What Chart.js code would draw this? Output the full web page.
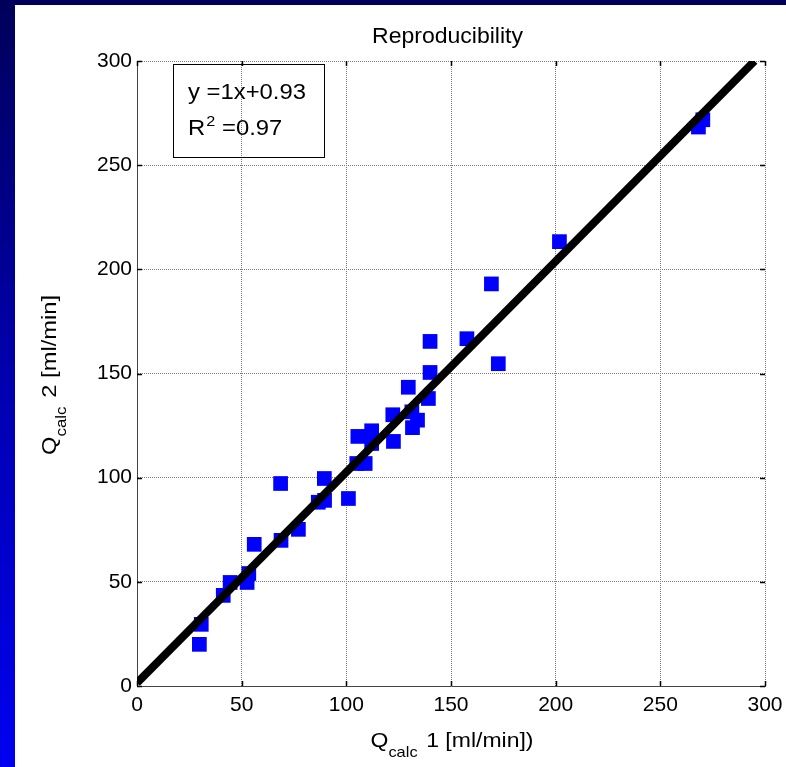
<!DOCTYPE html>
<html>
<head>
<meta charset="utf-8">
<script src="https://cdn.jsdelivr.net/npm/chart.js@4/dist/chart.umd.min.js"></script>
<style>
  html, body { margin: 0; padding: 0; width: 786px; height: 767px; overflow: hidden;
    background: linear-gradient(to bottom, #00005a 0%, #0000b0 50%, #0000f0 100%); }
  #wrap { position: absolute; left: 15px; top: 5px; width: 771px; height: 762px; background: #ffffff; }
  canvas { display: block; }
</style>
</head>
<body>
<div id="wrap"><canvas id="c" width="771" height="762"></canvas></div>
<script>
// ---- data ----
const chartTitle = "Reproducibility";
const xTicks = [0, 50, 100, 150, 200, 250, 300];
const yTicks = [0, 50, 100, 150, 200, 250, 300];
const q1 = [29.8, 30.7, 41.2, 44.5, 52.6, 53.4, 56.0, 68.8, 68.6, 77.1, 86.6, 89.6, 89.5, 101.0,
            105.0, 109.0, 105.5, 112.1, 112.1, 122.5, 122.2, 131.3, 134.0, 131.6, 129.6, 139.2,
            140.0, 140.0, 157.6, 172.6, 169.3, 201.8, 268.2, 270.3];
const q2 = [20.0, 29.6, 43.5, 49.7, 49.7, 54.0, 68.0, 69.9, 97.2, 75.2, 88.2, 89.1, 99.6, 90.0,
            106.8, 106.8, 119.8, 122.5, 116.4, 117.4, 130.2, 131.6, 127.6, 124.0, 143.4, 138.0,
            150.5, 165.4, 166.7, 154.7, 193.0, 213.3, 268.3, 271.8];
const fitX = [0, 295];
const fitY = [1.5, 300];
const fitText = "y =1x+0.93";
const r2Text = "0.97";

const FONT = "'Liberation Sans', Arial, Helvetica, sans-serif";

const scatterPts = q1.map((x, i) => ({ x: x, y: q2[i] }));
const linePts = fitX.map((x, i) => ({ x: x, y: fitY[i] }));

const decor = {
  id: 'decor',
  afterDraw(chart) {
    const ctx = chart.ctx;
    const a = chart.chartArea;
    const xs = chart.scales.x, ys = chart.scales.y;
    ctx.save();
    // inward tick marks on all four sides
    ctx.strokeStyle = '#000';
    ctx.lineWidth = 1.5;
    ctx.beginPath();
    xTicks.forEach(v => {
      const px = Math.round(xs.getPixelForValue(v)) + 0.5;
      ctx.moveTo(px, a.bottom); ctx.lineTo(px, a.bottom - 5);
      ctx.moveTo(px, a.top); ctx.lineTo(px, a.top + 5);
    });
    yTicks.forEach(v => {
      const py = Math.round(ys.getPixelForValue(v)) + 0.5;
      ctx.moveTo(a.left, py); ctx.lineTo(a.left + 5, py);
      ctx.moveTo(a.right, py); ctx.lineTo(a.right - 5, py);
    });
    ctx.stroke();

    ctx.fillStyle = '#000';
    ctx.textBaseline = 'alphabetic';

    // title
    ctx.font = "22px " + FONT;
    const tw = ctx.measureText(chartTitle).width;
    ctx.save();
    ctx.translate(432.5, 37.7);
    ctx.scale(151 / tw, 1);
    ctx.textAlign = 'center';
    ctx.fillText(chartTitle, 0, 0);
    ctx.restore();

    // helper for Q_calc labels, stretched to a target length
    function qLabel(rest, target) {
      ctx.font = "21px " + FONT;
      const w1 = ctx.measureText("Q").width;
      const w3 = ctx.measureText(rest).width;
      ctx.font = "15px " + FONT;
      const w2 = ctx.measureText("calc").width;
      const total = w1 + w2 + w3 + 2;
      ctx.scale(target / total, 1);
      let x0 = -total / 2;
      ctx.textAlign = 'left';
      ctx.font = "21px " + FONT;
      ctx.fillText("Q", x0, 0);
      ctx.font = "15px " + FONT;
      ctx.fillText("calc", x0 + w1, 10);
      ctx.font = "21px " + FONT;
      ctx.fillText(rest, x0 + w1 + w2 + 2, 0);
    }
    // x axis title
    ctx.save();
    ctx.translate(437, 741.5);
    qLabel(" 1 [ml/min])", 163);
    ctx.restore();
    // y axis title
    ctx.save();
    ctx.translate(40.5, 370);
    ctx.rotate(-Math.PI / 2);
    qLabel(" 2 [ml/min]", 160);
    ctx.restore();

    // annotation box (no fill: grid shows through)
    const bx = 158.5, by = 59.5, bw = 151, bh = 93;
    ctx.strokeStyle = '#000';
    ctx.lineWidth = 1;
    ctx.strokeRect(bx, by, bw, bh);
    ctx.fillStyle = '#000';
    ctx.textAlign = 'left';
    ctx.font = "22px " + FONT;
    const fw = ctx.measureText(fitText).width;
    ctx.save();
    ctx.translate(173, 94);
    ctx.scale(118 / fw, 1);
    ctx.fillText(fitText, 0, 0);
    ctx.restore();
    ctx.save();
    ctx.translate(173, 130);
    ctx.scale(118 / fw, 1);
    ctx.fillText("R", 0, 0);
    const rw = ctx.measureText("R").width;
    ctx.font = "15px " + FONT;
    ctx.fillText("2", rw + 1, -9);
    const sw = ctx.measureText("2").width;
    ctx.font = "22px " + FONT;
    ctx.fillText(" =" + r2Text, rw + sw + 1, 0);
    ctx.restore();
    ctx.restore();
  }
};

new Chart(document.getElementById('c'), {
  type: 'scatter',
  data: {
    datasets: [
      {
        type: 'line',
        label: 'fit',
        data: linePts,
        borderColor: '#000000',
        borderWidth: 8,
        pointRadius: 0,
        fill: false,
        showLine: true,
        order: 0
      },
      {
        label: 'measurements',
        data: scatterPts,
        pointStyle: 'rect',
        pointRadius: 10.4,
        pointHoverRadius: 10.4,
        backgroundColor: '#0000ff',
        borderWidth: 0,
        order: 1
      }
    ]
  },
  options: {
    responsive: false,
    animation: false,
    events: [],
    layout: { padding: { top: 56, right: 21, left: 0, bottom: 0 } },
    plugins: { legend: { display: false }, tooltip: { enabled: false }, title: { display: false } },
    scales: {
      x: {
        type: 'linear', min: 0, max: 300,
        afterBuildTicks: s => { s.ticks = xTicks.map(v => ({ value: v })); },
        afterFit: s => { s.height = 81; s.paddingLeft = 0; s.paddingRight = 0; },
        ticks: { color: '#000', font: { family: FONT, size: 21 }, padding: 7, maxRotation: 0 },
        grid: { color: '#7a7a7a', lineWidth: 1, drawTicks: false },
        border: { display: true, color: '#444', width: 1, dash: [1, 1] }
      },
      y: {
        type: 'linear', min: 0, max: 300,
        afterBuildTicks: s => { s.ticks = yTicks.map(v => ({ value: v })); },
        afterFit: s => { s.width = 122; s.paddingTop = 0; s.paddingBottom = 0; },
        ticks: { color: '#000', font: { family: FONT, size: 21 }, padding: 5 },
        grid: { color: '#7a7a7a', lineWidth: 1, drawTicks: false },
        border: { display: true, color: '#444', width: 1, dash: [1, 1] }
      }
    }
  },
  plugins: [decor]
});
</script>
</body>
</html>
